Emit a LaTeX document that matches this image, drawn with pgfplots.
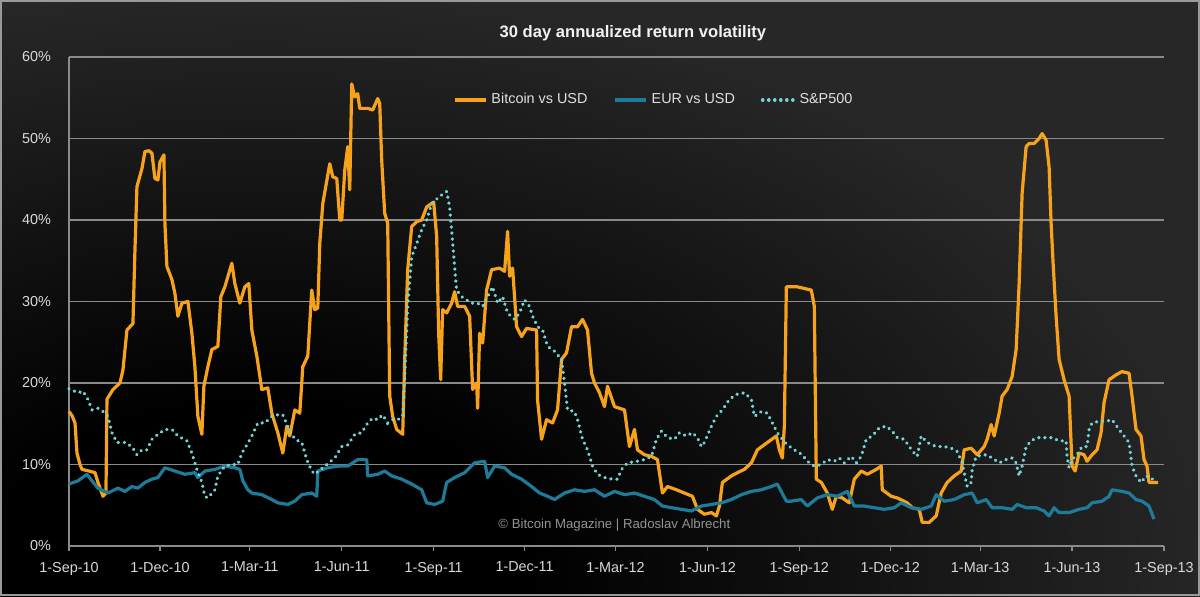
\documentclass[border=0pt]{standalone}
\usepackage{pgfplots}
\pgfplotsset{compat=1.18}
\usepackage{fontspec}
\setmainfont{Liberation Sans}
\definecolor{bgg}{HTML}{272727}
\definecolor{btc}{HTML}{F7A21B}
\definecolor{eur}{HTML}{1F7B9A}
\definecolor{spx}{HTML}{72D6D9}
\definecolor{gridc}{HTML}{8A8A8A}
\definecolor{tickc}{HTML}{D9D9D9}
\pgfdeclareradialshading{bgshade}{\pgfpoint{0bp}{0bp}}{color(0bp)=(black); color(7bp)=(black); color(25bp)=(bgg); color(50bp)=(bgg)}
\begin{document}
\begin{tikzpicture}
\path[use as bounding box] (0,0) rectangle (600pt,298pt);
\begin{scope}
\clip (0,0) rectangle (600pt,298pt);
\fill[bgg] (0,0) rectangle (600pt,298pt);
\shade[shading=bgshade] (130pt,15pt) ellipse [x radius=480pt, y radius=290pt];
\end{scope}
\draw[gray!80!white, line width=0.8pt] (0.4pt,0.4pt) rectangle (599.6pt,297.6pt);
\begin{axis}[
  at={(34.5pt,25pt)}, anchor=south west,
  scale only axis, width=547.5pt, height=244.5pt,
  xmin=0, xmax=1096, ymin=0, ymax=60,
  axis x line*=bottom, axis y line*=left,
  axis line style={gridc, line width=0.6pt},
  xtick={0,91,181,273,365,456,547,639,731,822,912,1004,1096},
  xticklabels={1-Sep-10,1-Dec-10,1-Mar-11,1-Jun-11,1-Sep-11,1-Dec-11,1-Mar-12,1-Jun-12,1-Sep-12,1-Dec-12,1-Mar-13,1-Jun-13,1-Sep-13},
  ytick={0,10,20,30,40,50,60},
  yticklabels={0\%,10\%,20\%,30\%,40\%,50\%,60\%},
  ymajorgrids, grid style={gridc, line width=0.6pt},
  tick align=outside, major tick length=2.5pt,
  x tick style={gridc, line width=0.6pt},
  y tick style={draw=none},
  ticklabel style={font=\fontsize{7.2pt}{8pt}\selectfont, text=tickc},
  xticklabel style={yshift=-2pt},
  yticklabel style={xshift=-3pt},
  legend style={at={(0.535,0.912)}, anchor=center, draw=none, fill=none,
    text=white!88!black, font=\fontsize{7.2pt}{8pt}\selectfont,
    legend columns=3,
    /tikz/every even column/.append style={column sep=11pt}},
  legend image code/.code={\draw[#1] (0pt,0pt) -- (15.5pt,0pt);},
  legend cell align=left,
  clip=false,
]
\addplot[btc, line width=1.6pt, line join=round] coordinates {
(0,16.5)(3,16.0)(6,15.1)(8,11.4)(11,10.0)(13,9.4)(20,9.2)(26,9.0)(29,7.8)(34,6.1)(37,6.5)(38,18.0)(44,19.2)(51,20.0)(54,21.6)(58,26.5)(64,27.3)(66,36.3)(68,44.1)(73,46.3)(76,48.4)(80,48.5)(83,48.2)(86,45.1)(89,44.9)(91,47.1)(95,48.0)(96,39.6)(98,34.3)(103,32.7)(106,31.0)(109,28.2)(113,29.8)(119,30.0)(123,26.1)(126,22.0)(129,15.9)(133,13.7)(135,19.6)(139,22.0)(143,24.1)(149,24.5)(152,30.6)(156,31.8)(163,34.7)(166,32.2)(171,29.8)(176,31.8)(180,32.2)(183,26.5)(188,23.3)(193,19.2)(199,19.4)(203,16.3)(209,13.9)(214,11.4)(218,14.7)(221,13.5)(226,16.7)(231,16.3)(234,22.0)(239,23.3)(243,31.4)(246,29.0)(249,29.2)(251,37.1)(254,42.0)(261,46.9)(264,45.3)(268,45.1)(271,40.0)(273,40.0)(276,46.1)(279,49.0)(281,43.7)(283,56.7)(286,55.1)(289,55.5)(291,53.7)(299,53.7)(304,53.5)(309,54.9)(311,54.3)(313,47.3)(316,40.8)(319,39.6)(321,18.4)(324,15.9)(328,14.3)(334,13.7)(336,22.9)(339,33.9)(343,39.2)(348,39.8)(353,40.0)(358,41.6)(365,42.2)(368,38.0)(370,26.1)(372,20.4)(374,29.0)(378,28.6)(383,29.8)(386,31.2)(389,29.4)(396,29.4)(401,28.2)(404,19.2)(408,20.0)(409,16.9)(411,26.1)(414,24.9)(418,31.4)(423,33.9)(431,34.1)(436,33.7)(439,38.6)(441,33.1)(444,34.1)(448,26.9)(453,25.7)(458,26.7)(468,26.5)(469,17.9)(473,13.1)(478,15.5)(484,15.1)(489,16.7)(493,22.9)(498,23.7)(503,26.9)(509,26.9)(514,27.8)(519,26.5)(523,21.2)(526,20.0)(531,18.8)(536,17.1)(539,19.6)(546,17.1)(556,16.7)(561,12.2)(566,14.3)(569,11.8)(576,11.2)(583,11.0)(589,10.6)(594,6.5)(599,7.3)(608,6.9)(616,6.5)(624,6.1)(629,4.5)(636,3.9)(643,4.1)(648,3.7)(651,4.9)(654,7.8)(663,8.6)(669,9.0)(676,9.4)(683,10.2)(689,11.8)(699,12.7)(708,13.5)(711,11.8)(714,10.8)(716,14.7)(718,31.8)(729,31.8)(736,31.6)(743,31.4)(746,29.4)(748,8.2)(753,7.8)(759,6.5)(764,4.5)(768,6.1)(774,5.9)(781,5.3)(786,8.2)(793,9.2)(799,8.8)(808,9.4)(813,9.8)(814,6.9)(823,6.1)(829,5.9)(839,5.3)(844,4.7)(851,4.5)(854,2.9)(861,2.9)(868,3.7)(873,6.5)(879,7.8)(886,8.6)(893,9.2)(896,11.8)(903,12.0)(909,11.2)(916,12.2)(919,13.1)(923,14.9)(926,13.5)(931,16.3)(934,18.4)(939,19.2)(944,20.8)(948,24.1)(951,32.2)(953,39.6)(954,43.3)(958,49.0)(961,49.4)(966,49.4)(971,50.0)(974,50.6)(978,49.8)(981,46.5)(983,39.6)(985,34.7)(988,28.2)(991,22.9)(996,20.4)(1001,18.4)(1004,9.8)(1007,9.2)(1011,11.4)(1016,11.2)(1019,10.4)(1024,11.2)(1029,11.8)(1033,13.9)(1036,17.6)(1041,20.4)(1048,21.0)(1054,21.4)(1061,21.2)(1064,18.4)(1068,14.3)(1073,13.5)(1076,10.6)(1079,9.8)(1081,7.8)(1086,7.8)(1090,7.8)
};
\addlegendentry{Bitcoin vs USD}
\addplot[eur, line width=1.6pt, line join=round] coordinates {
(0,7.6)(9,8.0)(18,8.8)(23,8.0)(29,7.1)(39,6.5)(49,7.1)(56,6.7)(63,7.3)(69,7.1)(76,7.8)(83,8.2)(89,8.4)(96,9.6)(106,9.2)(116,8.8)(126,9.0)(129,8.4)(136,9.2)(146,9.4)(156,9.8)(166,9.6)(171,9.4)(174,8.0)(179,6.9)(183,6.5)(193,6.3)(203,5.7)(209,5.3)(219,5.1)(226,5.5)(233,6.3)(243,6.5)(248,6.1)(249,9.2)(259,9.6)(269,9.8)(279,9.8)(289,10.6)(298,10.6)(299,8.6)(309,8.8)(316,9.2)(323,8.6)(333,8.2)(343,7.6)(353,6.9)(358,5.3)(366,5.1)(374,5.5)(378,7.8)(386,8.4)(396,9.0)(406,10.2)(416,10.4)(419,8.4)(426,9.8)(436,9.6)(443,8.8)(453,8.2)(463,7.3)(471,6.5)(479,6.1)(486,5.7)(496,6.5)(506,6.9)(516,6.7)(526,6.9)(536,6.1)(546,6.7)(556,6.3)(566,6.5)(576,6.1)(586,5.7)(594,4.9)(603,4.7)(613,4.5)(623,4.3)(633,4.9)(643,5.1)(653,5.3)(663,5.7)(673,6.3)(683,6.7)(693,6.9)(703,7.3)(709,7.6)(718,5.5)(723,5.5)(733,5.7)(739,4.9)(749,5.9)(759,6.3)(769,6.1)(779,6.7)(786,4.9)(796,4.9)(806,4.7)(816,4.5)(826,4.7)(833,5.3)(843,4.7)(853,4.5)(863,4.9)(868,6.3)(876,5.5)(886,5.7)(896,6.3)(904,6.5)(909,5.3)(918,5.7)(924,4.7)(934,4.7)(944,4.5)(949,5.1)(958,4.7)(968,4.7)(976,4.3)(981,3.7)(986,4.7)(991,4.1)(1001,4.1)(1011,4.5)(1019,4.7)(1024,5.3)(1034,5.5)(1041,6.1)(1044,6.9)(1054,6.7)(1061,6.5)(1068,5.7)(1074,5.5)(1081,4.9)(1086,3.3)
};
\addlegendentry{EUR vs USD}
\addplot[spx, line width=1.8pt, line cap=round, dash pattern=on 0.01pt off 3pt] coordinates {
(0,19.3)(9,18.8)(14,19.0)(19,18.0)(23,16.7)(29,16.9)(34,16.5)(39,15.9)(43,13.9)(48,12.7)(56,12.7)(63,12.2)(68,11.2)(73,11.8)(78,11.8)(83,13.1)(89,13.7)(96,14.3)(103,14.3)(109,13.5)(118,12.9)(123,11.4)(128,9.4)(133,7.8)(136,6.1)(139,5.9)(146,6.9)(149,8.6)(156,9.8)(163,10.0)(169,10.0)(173,11.4)(178,12.4)(183,13.5)(189,15.1)(196,15.1)(203,15.9)(209,16.1)(214,16.1)(219,14.7)(226,13.1)(233,12.7)(238,10.6)(243,9.2)(246,8.8)(256,9.8)(266,10.8)(273,12.2)(279,12.4)(286,13.7)(293,13.9)(299,15.1)(304,15.7)(309,15.5)(314,16.1)(319,15.1)(324,15.5)(329,15.5)(334,15.9)(336,20.8)(339,29.4)(343,35.5)(348,37.1)(353,38.8)(358,40.0)(363,42.0)(371,42.9)(378,43.5)(381,41.6)(383,38.8)(386,34.3)(388,31.4)(393,30.6)(398,30.2)(403,29.8)(409,29.8)(414,29.4)(419,30.6)(424,31.8)(429,29.8)(434,30.6)(439,28.6)(446,27.8)(451,28.6)(456,30.2)(461,29.4)(464,28.2)(469,26.9)(474,26.5)(479,24.5)(486,23.9)(493,22.9)(496,20.0)(499,16.7)(506,16.5)(509,15.5)(514,13.1)(519,11.8)(524,9.8)(529,8.8)(536,8.4)(544,8.2)(549,8.2)(553,9.4)(559,10.2)(569,10.4)(576,10.6)(583,11.0)(588,13.1)(593,14.1)(599,13.3)(606,13.1)(611,13.9)(618,13.5)(624,13.9)(629,13.3)(633,12.2)(636,12.7)(643,14.7)(648,15.9)(654,16.7)(661,18.0)(668,18.6)(676,18.8)(683,18.0)(686,15.9)(693,16.5)(699,16.3)(704,15.1)(709,13.9)(714,13.1)(719,12.4)(726,11.8)(734,11.2)(739,10.4)(746,9.8)(753,10.0)(759,10.6)(766,10.4)(771,10.8)(776,10.2)(783,11.0)(788,10.2)(793,11.0)(798,13.1)(804,13.5)(811,14.5)(818,14.7)(824,14.1)(829,13.3)(836,13.1)(841,12.2)(846,11.4)(849,11.0)(853,13.5)(859,12.7)(868,12.2)(876,12.2)(883,12.0)(889,11.6)(894,10.2)(896,9.0)(899,7.3)(903,7.8)(904,9.4)(908,11.0)(918,11.2)(924,10.8)(931,10.2)(938,10.6)(944,10.8)(948,10.2)(951,8.6)(954,9.8)(958,12.2)(963,12.9)(969,13.3)(978,13.3)(984,13.3)(991,12.9)(998,12.9)(999,11.0)(1001,9.6)(1004,10.6)(1009,11.2)(1014,12.2)(1019,12.2)(1021,14.3)(1024,15.1)(1031,15.3)(1038,15.3)(1044,15.5)(1051,14.3)(1056,13.5)(1061,12.7)(1064,9.8)(1068,8.6)(1073,7.8)(1078,8.6)(1083,8.4)(1086,8.0)
};
\addlegendentry{S\&P500}
\node[text=white!95!black, font=\bfseries\fontsize{8.3pt}{10pt}\selectfont] at (axis description cs:0.515,1.048) {30 day annualized return volatility};
\node[text=gray!85!white, font=\fontsize{6.6pt}{8pt}\selectfont] at (axis description cs:0.498,0.043) {© Bitcoin Magazine | Radoslav Albrecht};
\end{axis}
\end{tikzpicture}
\end{document}
